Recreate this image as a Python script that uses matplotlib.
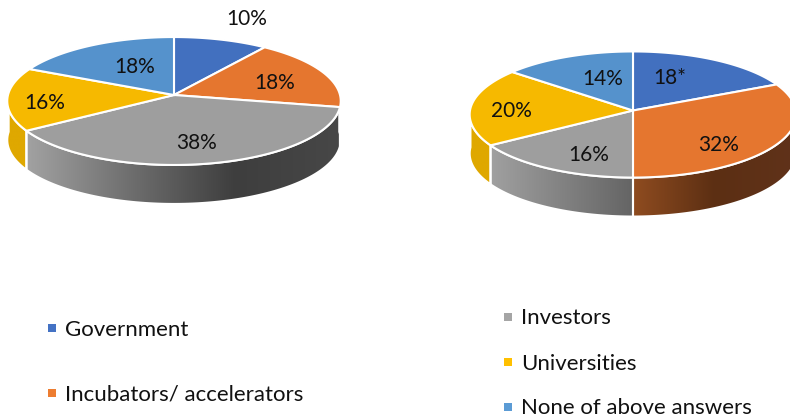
import numpy as np
import matplotlib
matplotlib.use('Agg')
import matplotlib.pyplot as plt
from matplotlib.colors import LinearSegmentedColormap
from matplotlib.patches import Polygon

names = ['Government', 'Incubators/ accelerators', 'Investors', 'Universities', 'None of above answers']
left_values = [10, 18, 38, 16, 18]
right_values = [18, 32, 16, 20, 14]
left_labels = ['10%', '18%', '38%', '16%', '18%']
right_labels = ['18*', '32%', '16%', '20%', '14%']

top_colors = ['#4270BF', '#E5762F', '#9E9E9E', '#F6B900', '#5592CC']
legend_colors = ['#4472C4', '#ED7D31', '#A5A5A5', '#FFC000', '#5B9BD5']

plt.rcParams['font.family'] = ['Lato', 'DejaVu Sans']

fig = plt.figure(figsize=(7.9, 4.18), dpi=100)
ax = fig.add_axes([0, 0, 1, 1])
ax.set_xlim(0, 790)
ax.set_ylim(418, 0)
ax.axis('off')


def project(ang, cx, cy, rx, a, k):
    # angle is clockwise from 12 o'clock, front of the pie comes out bigger
    u = np.sin(ang)
    v = np.cos(ang)
    w = 1 + k * v
    return cx + rx * u / w, cy - a * v / w


def draw_pie(values, labels, label_xy, side_colors, cx, cy, rx, a, k, depth):
    edges = np.radians(np.concatenate([[0], np.cumsum(values)]) * 3.6)
    # sides first, the top faces go over them
    for i in range(len(values)):
        a0 = max(edges[i], np.radians(88))
        a1 = min(edges[i + 1], np.radians(272))
        if a1 <= a0:
            continue
        t = np.linspace(a0, a1, 100)
        x, y = project(t, cx, cy, rx, a, k)
        xs = np.concatenate([x, x[::-1]])
        ys = np.concatenate([y, y[::-1] + depth])
        poly = Polygon(np.column_stack([xs, ys]), closed=True, fc='none', ec='white', lw=1.5, zorder=3)
        ax.add_patch(poly)
        cmap = LinearSegmentedColormap.from_list('side', side_colors[i])
        grad = np.linspace(0, 1, 256)[None, :]
        im = ax.imshow(grad, cmap=cmap, aspect='auto', zorder=2,
                       extent=[xs.min(), xs.max(), ys.max(), ys.min()])
        im.set_clip_path(poly)
    ax.set_xlim(0, 790)
    ax.set_ylim(418, 0)
    for i in range(len(values)):
        t = np.linspace(edges[i], edges[i + 1], 120)
        x, y = project(t, cx, cy, rx, a, k)
        pts = np.column_stack([np.r_[cx, x], np.r_[cy, y]])
        ax.add_patch(Polygon(pts, closed=True, fc=top_colors[i], ec='white', lw=1.5, zorder=4))
    for txt, (lx, ly) in zip(labels, label_xy):
        ax.text(lx, ly, txt, fontsize=LABEL_SIZE, color='#111111', ha='center', va='center', zorder=5)


LABEL_SIZE = 15
LEGEND_SIZE = 16

left_label_xy = [(247, 19), (275, 83), (197, 143), (45, 103), (135, 67)]
right_label_xy = [(670, 78), (719, 145), (589, 155), (511, 111), (603, 79)]

left_sides = [['#2f5290', '#2f5290'], ['#3f3f3f', '#4a4a4a'],
              ['#a2a2a2', '#6e6e6e', '#3e3e3e', '#474747'],
              ['#DFA800', '#DFA800'], ['#3f6f9d', '#3f6f9d']]
right_sides = [['#2f5290', '#2f5290'], ['#8f4c20', '#5c2f13', '#60321a'],
               ['#a0a0a0', '#646464'], ['#DFA800', '#DFA800'], ['#3f6f9d', '#3f6f9d']]

draw_pie(left_values, left_labels, left_label_xy, left_sides, 174, 95, 166, 63.4, 0.0938, 39)
draw_pie(right_values, right_labels, right_label_xy, right_sides, 633, 110.5, 163, 62.8, 0.0635, 39)

# legend is split in two blocks under the pies
legend_x = [52, 52, 508, 508, 508]
legend_y = [328, 393, 317, 362, 407]
text_x = [65, 65, 521, 521, 521]
for n, c, mx, my, tx in zip(names, legend_colors, legend_x, legend_y, text_x):
    ax.scatter([mx], [my], s=33, marker='s', color=c, linewidths=0, zorder=5)
    ax.text(tx, my + 7.5, n, fontsize=LEGEND_SIZE, color='#111111', ha='left', va='baseline')

fig.savefig('out.png', dpi=100)
